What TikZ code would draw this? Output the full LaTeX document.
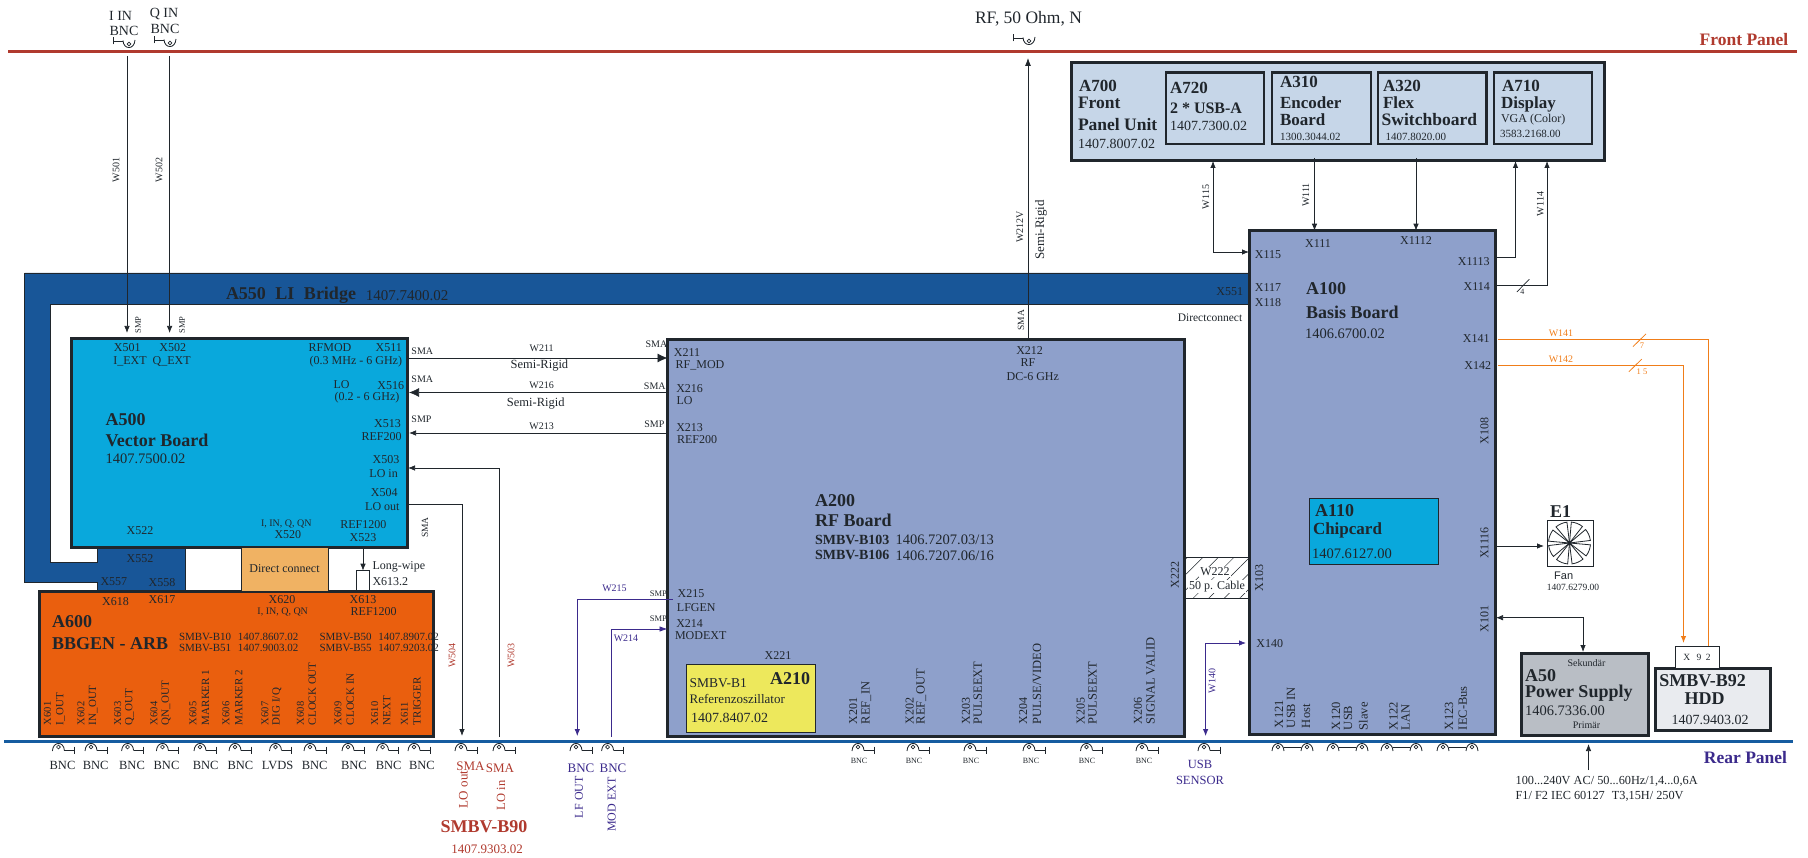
\documentclass[tikz,border=0pt]{standalone}
\usepackage{fontspec}
\setmainfont{Liberation Serif}
\newfontfamily\fansans{Liberation Sans}
\usetikzlibrary{arrows.meta,patterns.meta}
\definecolor{inkBlack}{RGB}{32, 38, 44}
\definecolor{frontRed}{RGB}{176, 58, 46}
\definecolor{rearBlue}{RGB}{22, 92, 160}
\definecolor{bridgeBlue}{RGB}{24, 86, 152}
\definecolor{vectorBlue}{RGB}{9, 168, 220}
\definecolor{rfBlue}{RGB}{142, 160, 203}
\definecolor{panelBlue}{RGB}{198, 214, 232}
\definecolor{arbOrange}{RGB}{234, 95, 14}
\definecolor{wipeOrange}{RGB}{240, 178, 99}
\definecolor{refYellow}{RGB}{237, 232, 92}
\definecolor{psuGrey}{RGB}{185, 190, 197}
\definecolor{hddGrey}{RGB}{233, 235, 239}
\definecolor{wireOrange}{RGB}{240, 125, 25}
\definecolor{wirePurple}{RGB}{59, 42, 140}
\tikzset{
  sz/.style={font=\fontsize{#1}{#1}\selectfont},
  bsz/.style={font=\fontsize{#1}{#1}\selectfont\bfseries},
  board/.style n args={3}{draw=inkBlack, line width=3pt, fill=#1, anchor=north west, minimum width=#2, minimum height=#3},
  inner/.style n args={2}{draw=inkBlack, line width=2.4pt, fill=panelBlue, anchor=north west, minimum width=#1, minimum height=#2},
  wire/.style={draw=inkBlack, line width=0.75pt},
  head/.style={-{Latex[length=7pt,width=5.5pt]}},
  bighead/.style={-{Latex[length=10pt,width=9pt]}},
  bothheads/.style={{Latex[length=7pt,width=5.5pt]}-{Latex[length=7pt,width=5.5pt]}},
  pwire/.style={draw=wirePurple, line width=0.75pt},
  owire/.style={draw=wireOrange, line width=1pt},
  up/.style={rotate=90, anchor=west},
  conn/.pic={
    \draw[inkBlack, line width=0.85pt] (-1,8) .. controls (-0.5,-2) and (10.5,-2) .. (11,7.5);
    \draw[inkBlack, line width=0.7pt] (5,4) circle (1.9pt);
    \draw[inkBlack, line width=0.85pt] (11,7) -- (21,7) (21,3.5) -- (21,11);
  },
  conndouble/.pic={
    \draw[inkBlack, line width=0.85pt] (-1,8) .. controls (-0.5,-2) and (10.5,-2) .. (11,8);
    \draw[inkBlack, line width=0.7pt] (5,4) circle (1.9pt);
    \draw[inkBlack, line width=0.85pt] (28,8) .. controls (28.5,-2) and (39.5,-2) .. (40,8);
    \draw[inkBlack, line width=0.7pt] (34,4) circle (1.9pt);
    \draw[inkBlack, line width=0.85pt] (11,4) -- (28,4);
  },
}
\begin{document}
\begin{tikzpicture}[x=1pt, y=-1pt, every node/.style={inner sep=0pt, outer sep=0pt, text=inkBlack, sz=12}]
\useasboundingbox (0,0) rectangle (1808,858);

% panels
\coordinate (frontL) at (8,52);
\coordinate (frontR) at (1797,52);
\coordinate (rearL) at (4,741);
\coordinate (rearR) at (1793,741);
\draw[frontRed, line width=3pt] (frontL) -- (frontR);
\draw[rearBlue, line width=3pt] (rearL) -- (rearR);

% bridge
\draw[fill=bridgeBlue, draw=inkBlack, line width=0.6pt] (24.5,273) -- (1249,273) -- (1249,304) -- (50,304) -- (50,562) -- (97,562) -- (97,545) -- (185,545) -- (185,592) -- (97,592) -- (97,582) -- (24.5,582) -- cycle;

% boards
\node[board={vectorBlue}{336pt}{208pt}] (A500) at (71,339) {};
\node[board={arbOrange}{393.5pt}{145pt}] (A600) at (39.5,591.7) {};
\node[draw=inkBlack, line width=0.7pt, fill=wipeOrange, anchor=north west, minimum width=87pt, minimum height=44pt] (direct) at (241,547) {};
\node[draw=inkBlack, line width=0.7pt, fill=white, anchor=north west, minimum width=13pt, minimum height=20pt] (wipe) at (356.7,570.7) {};
\node[board={rfBlue}{517pt}{396.7pt}] (A200) at (667.5,340) {};
\node[draw=inkBlack, line width=1pt, fill=refYellow, anchor=north west, minimum width=129.7pt, minimum height=68pt] (A210) at (686,664) {};
\node[draw=inkBlack, line width=0.6pt, pattern={Lines[angle=45,distance=11pt,line width=0.5pt]}, pattern color=inkBlack, anchor=north west, minimum width=64pt, minimum height=41pt] (W222) at (1185,557) {};
\node[board={rfBlue}{246pt}{503.3pt}] (A100) at (1249,230.7) {};
\node[draw=inkBlack, line width=1pt, fill=vectorBlue, anchor=north west, minimum width=129pt, minimum height=66.7pt] (A110) at (1309,498) {};
\node[draw=inkBlack, line width=1pt, fill=white, anchor=north west, minimum width=46pt, minimum height=45.3pt] (fan) at (1547,520.7) {};
\node[board={psuGrey}{127.6pt}{82.7pt}] (A50) at (1521,653) {};
\node[board={hddGrey}{115.7pt}{62.7pt}] (HDD) at (1655,668) {};
\node[draw=inkBlack, line width=0.7pt, fill=white, anchor=north west, minimum width=44pt, minimum height=22pt] (X92) at (1675,646) {};
\node[board={panelBlue}{533pt}{98pt}] (A700) at (1071,63) {};
\node[inner={98pt}{71.3pt}] (A720) at (1166,72.7) {};
\node[inner={99pt}{71.3pt}] (A310) at (1272,72.7) {};
\node[inner={108.5pt}{71.3pt}] (A320) at (1378,72.7) {};
\node[inner={98pt}{71.3pt}] (A710) at (1494,72.7) {};

% fan blades
\coordinate (fanC) at (1569.5,543);
\foreach \a in {5,50,95,140,185,230,275,320}
  \draw[inkBlack, line width=0.8pt] (fanC) -- ++(\a:21) arc (\a:\a+33:21) -- cycle;

% connectors to the front
\coordinate (w501a) at (127,56);
\coordinate (w502a) at (169.6,56);
\coordinate (rfTop) at (1028,58);
\draw[wire, head, shorten >=6pt] (w501a) -- (w501a |- A500.north);
\draw[wire, head, shorten >=6pt] (w502a) -- (w502a |- A500.north);
\draw[wire, {Latex[length=8pt,width=6pt]}-] (rfTop) -- (rfTop |- A200.north);

% A500 to A200
\coordinate (w211) at (667,358);
\coordinate (w216) at (667,392.5);
\coordinate (w213) at (667,433);
\draw[wire, bighead, shorten <=2pt] (A500.east |- w211) -- (A200.west |- w211);
\draw[wire, bighead, shorten >=2pt] (A200.west |- w216) -- (A500.east |- w216);
\draw[wire, head, shorten >=2pt] (A200.west |- w213) -- (A500.east |- w213);

% LO wires
\coordinate (w503a) at (499,468);
\coordinate (w503b) at (499,737);
\coordinate (w504a) at (462,504);
\coordinate (w504b) at (462,736);
\draw[wire, head, shorten >=1pt] (w503b) -- (w503a) -- (A500.east |- w503a);
\draw[wire, head] (A500.east |- w504a) -- (w504a) -- (w504b);
\coordinate (wipeArrow) at (363,547);
\draw[wire, head] (wipeArrow) -- (wipeArrow |- wipe.north);

% purple wires
\coordinate (w215a) at (577.3,599);
\coordinate (w215b) at (577.3,736);
\coordinate (w214a) at (611,629);
\coordinate (w214b) at (611,737);
\coordinate (w140a) at (1205.6,643);
\coordinate (w140b) at (1205.6,736);
\draw[pwire, {Latex[length=7pt,width=5.5pt]}-] (w215b) -- (w215a) -- (672.6,599);
\draw[pwire, {Latex[length=8pt,width=5.5pt]}-] (A200.west |- w214a) -- (w214a) -- (w214b);
\draw[pwire, bothheads, shorten >=3pt] (w140b) -- (w140a) -- (A100.west |- w140a);

% A100 to the front panel unit
\coordinate (w115a) at (1213,252);
\coordinate (w111a) at (1314.5,158);
\coordinate (w112a) at (1416,158);
\coordinate (w113a) at (1515.5,257);
\coordinate (w114a) at (1547,285.7);
\draw[wire, bothheads] (w115a |- A700.south) -- (w115a) -- (A100.west |- w115a);
\draw[wire, head] (w111a) -- (w111a |- A100.north);
\draw[wire, head] (w112a) -- (w112a |- A100.north);
\draw[wire, head] (A100.east |- w113a) -- (w113a) -- (w113a |- A700.south);
\draw[wire, head] (A100.east |- w114a) -- (w114a) -- (w114a |- A700.south);
\draw[inkBlack, line width=0.7pt] (1522.8,285.7) ++(-6,6.3) -- ++(12.5,-12.7);

% hdd wires
\coordinate (w141a) at (1708.8,340);
\coordinate (w142a) at (1683.5,365.7);
\draw[owire, shorten <=3pt] (A100.east |- w141a) -- (w141a) -- (w141a |- X92.north);
\draw[owire, head, shorten <=3pt, shorten >=3pt] (A100.east |- w142a) -- (w142a) -- (w142a |- X92.north);
\draw[wireOrange, line width=0.8pt] (1639.5,340.3) ++(-6.5,6.3) -- ++(13,-12.7);
\draw[wireOrange, line width=0.8pt] (1635.3,365.5) ++(-6.5,6.3) -- ++(13,-12.7);

% fan and power supply
\coordinate (fanIn) at (1495,546);
\coordinate (x101a) at (1583,617.7);
\coordinate (mains) at (1588.5,770);
\draw[wire, head, shorten >=3pt] (A100.east |- fanIn) -- (fan.west |- fanIn);
\draw[wire, bothheads, shorten <=1pt, shorten >=1pt] (A100.east |- x101a) -- (x101a) -- (x101a |- A50.north);
\draw[wire, head, shorten >=3pt] (mains) -- (mains |- rearL);

% connectors on the panels
\pic (fIn1) at (134,48) [rotate=180] {conn};
\pic (fIn2) at (175,47) [rotate=180] {conn};
\pic (fRf) at (1034,45) [rotate=180] {conn};
\foreach \n/\x in {1/53.4,2/86,3/122.6,4/157.4,5/195,6/230,7/270.5,8/305,9/343,10/377.6,11/409,12/456,13/494,14/571,15/602.6,16/853,17/908,18/965,19/1024,20/1081.5,21/1137,22/1199}
  \pic (rIn\n) at (\x,743) {conn};
\foreach \n/\x in {1/1273,2/1328,3/1382,4/1438}
  \pic (rDbl\n) at (\x,743) {conndouble};

% front labels
\node[sz=14] (tIin) at (120.6,15.7) {I IN};
\node[sz=14] (tIbnc) at (124,31) {BNC};
\node[sz=14] (tQin) at (164,14) {Q IN};
\node[sz=14] (tQbnc) at (165,29) {BNC};
\node[sz=17.5] (tRf) at (1028.5,18.5) {RF, 50 Ohm, N};
\node[bsz=17.5, text=frontRed] (tFront) at (1744,39.3) {Front Panel};
\node[bsz=17.5, text=wirePurple] (tRear) at (1745.5,758) {Rear Panel};

% wire labels, top
\node[sz=10, up, anchor=center] (tW501) at (116,170) {W501};
\node[sz=10, up, anchor=center] (tW502) at (159,170) {W502};
\node[sz=8.5, up, anchor=center] (tSmp1) at (138,325) {SMP};
\node[sz=8.5, up, anchor=center] (tSmp2) at (182,325) {SMP};
\node[sz=10, up, anchor=center] (tW212) at (1020,227) {W212V};
\node[sz=13, up, anchor=center] (tSemi0) at (1041,230) {Semi-Rigid};
\node[sz=9.5, up, anchor=center] (tSma0) at (1021,320) {SMA};
\node[sz=10, up, anchor=center] (tW115) at (1206,197) {W115};
\node[sz=10, up, anchor=center] (tW111) at (1306,195) {W111};
\node[sz=10, up, anchor=center] (tW114) at (1540.5,204) {W114};

% bridge labels
\node[bsz=18, anchor=west] (tA550) at (226,295.7) {A550\hspace{5pt} LI\hspace{5pt} Bridge};
\node[sz=15, anchor=west] (tA550n) at (365.8,295.7) {1407.7400.02};
\node (tX551) at (1229.7,291.7) {X551};
\node[sz=11.5] (tDirectc) at (1210,317.7) {Directconnect};
\node (tX552) at (140,558.3) {X552};
\node (tX557) at (113.9,581.7) {X557};
\node (tX558) at (162,582.3) {X558};

% A500
\node (tX501) at (127.3,347.7) {X501};
\node (tX502) at (172.8,347.7) {X502};
\node (tIext) at (130,361.7) {I\_EXT};
\node (tQext) at (171.6,361.7) {Q\_EXT};
\node (tRfmod) at (330,347.7) {RFMOD};
\node (tX511) at (388.7,347.7) {X511};
\node (tRange1) at (355.9,361.7) {(0.3 MHz - 6 GHz)};
\node (tLo1) at (341.6,384.7) {LO};
\node (tX516) at (390.7,385.7) {X516};
\node (tRange2) at (367,397.7) {(0.2 - 6 GHz)};
\node[bsz=18, anchor=west] (tA500) at (105.6,420) {A500};
\node[bsz=18, anchor=west] (tVector) at (105.6,440) {Vector Board};
\node[sz=14.5, anchor=west] (tA500n) at (105.6,458.3) {1407.7500.02};
\node (tX513) at (387.5,423.3) {X513};
\node (tRef200a) at (381.6,436.7) {REF200};
\node (tX503) at (386,459.3) {X503};
\node (tLoin) at (383.6,473.7) {LO in};
\node (tX504) at (384.3,492.7) {X504};
\node (tLoout) at (382.4,507) {LO out};
\node (tX522) at (140,530.7) {X522};
\node[sz=10] (tIq1) at (286.3,523.7) {I, IN, Q, QN};
\node (tX520) at (287.9,534.7) {X520};
\node (tRef1200a) at (363.4,524.3) {REF1200};
\node (tX523) at (363,537.3) {X523};
\node[sz=9.5, up, anchor=center] (tSma3) at (425,527.7) {SMA};
\node (tDirect) at (direct.center) {Direct connect};
\node[anchor=west] (tWipe) at (372.5,566.7) {Long-wipe};
\node[anchor=west] (tX6132) at (372.5,581.7) {X613.2};

% wire labels, A500 to A200
\node[sz=10] (tSma1) at (422.3,351.7) {SMA};
\node[sz=10] (tSma2) at (422.3,379.3) {SMA};
\node[sz=10] (tSmp3) at (421.5,419) {SMP};
\node[sz=10] (tW211) at (541.7,348.3) {W211};
\node[sz=12.5] (tSemi1) at (539.4,365.7) {Semi-Rigid};
\node[sz=10] (tW216) at (541.7,385.3) {W216};
\node[sz=12.5] (tSemi2) at (535.8,403.3) {Semi-Rigid};
\node[sz=10] (tW213) at (541.7,426.7) {W213};

% A600
\node (tX618) at (115.5,601.3) {X618};
\node (tX617) at (162,599.3) {X617};
\node (tX620) at (282,599.3) {X620};
\node[sz=10] (tIq2) at (282.7,611.7) {I, IN, Q, QN};
\node (tX613) at (363,599.3) {X613};
\node (tRef1200b) at (373.7,611.7) {REF1200};
\node[bsz=18, anchor=west] (tA600) at (52.2,622) {A600};
\node[bsz=18, anchor=west] (tBbgen) at (52.2,643.3) {BBGEN - ARB};
\node[sz=11, anchor=west] (tB10) at (179,636.7) {SMBV-B10\hspace{4pt} 1407.8607.02};
\node[sz=11, anchor=west] (tB51) at (179,647.7) {SMBV-B51\hspace{4pt} 1407.9003.02};
\node[sz=11, anchor=west] (tB50) at (319.5,636.7) {SMBV-B50\hspace{4pt} 1407.8907.02};
\node[sz=11, anchor=west] (tB55) at (319.5,647.7) {SMBV-B55\hspace{4pt} 1407.9203.02};
\foreach \n/\t/\xa/\xb in {601/I\_OUT/47.4/60.5,602/IN\_OUT/81/93.3,603/Q\_OUT/117.8/129.7,604/QN\_OUT/154/166,605/MARKER 1/193/205.6,606/MARKER 2/226/238.8,607/{DIG I/Q}/265/276.8,608/CLOCK OUT/300.5/312.4,609/CLOCK IN/338/350.3,610/NEXT/374.8/386.7,611/TRIGGER/404.5/417}{
  \node[sz=10.5, up] (tX\n) at (\xa,725) {X\n};
  \node[sz=11, up] (tS\n) at (\xb,725) {\t};
}

% rear labels, left
\foreach \n/\x/\t in {1/62.5/BNC,2/95.7/BNC,3/132/BNC,4/166.5/BNC,5/205.6/BNC,6/240.4/BNC,7/277.6/LVDS,8/314.7/BNC,9/353.9/BNC,10/388.7/BNC,11/421.9/BNC}
  \node[sz=12.5] (tRear\n) at (\x,765.7) {\t};
\node[sz=13, text=frontRed] (tSmaO) at (470.5,766.7) {SMA};
\node[sz=13, text=frontRed] (tSmaI) at (500,768.3) {SMA};
\node[sz=13, up, text=frontRed] (tLoO) at (463.4,808) {LO out};
\node[sz=12.5, up, text=frontRed] (tLoI) at (501,810) {LO in};
\node[bsz=18, text=frontRed] (tB90) at (484,826.7) {SMBV-B90};
\node[sz=13, text=frontRed] (tB90n) at (487,849) {1407.9303.02};
\node[sz=10, up, anchor=center, text=frontRed] (tW504) at (452,655.7) {W504};
\node[sz=10, up, anchor=center, text=frontRed] (tW503) at (511,655.7) {W503};
\node[sz=13, text=wirePurple] (tBncL) at (581,768.3) {BNC};
\node[sz=13, text=wirePurple] (tBncM) at (613,768.3) {BNC};
\node[sz=12, up, text=wirePurple] (tLfout) at (579,818) {LF OUT};
\node[sz=12, up, text=wirePurple] (tModext) at (611.7,831.7) {MOD EXT};
\node[sz=10, text=wirePurple] (tW215) at (614.5,588) {W215};
\node[sz=10, text=wirePurple] (tW214) at (626,638) {W214};
\node[sz=10, up, anchor=center, text=wirePurple] (tW140) at (1212,681) {W140};
\node[sz=12.5, text=wirePurple] (tUsb) at (1200,764) {USB};
\node[sz=12.5, text=wirePurple] (tSensor) at (1200,780) {SENSOR};

% A200
\node[sz=10] (tSma4) at (656.4,344.3) {SMA};
\node (tX211) at (687,352.3) {X211};
\node (tRfm) at (700,365.7) {RF\_MOD};
\node[sz=10] (tSma5) at (654.8,386.3) {SMA};
\node (tX216) at (689.6,388.3) {X216};
\node (tLo2) at (684.5,400.7) {LO};
\node[sz=10] (tSmp4) at (654.4,424.3) {SMP};
\node (tX213) at (689.6,427.3) {X213};
\node (tRef200b) at (697,439.3) {REF200};
\node (tX212) at (1029.6,350.3) {X212};
\node (tRf2) at (1028,362.3) {RF};
\node (tDc) at (1032.8,376.7) {DC-6 GHz};
\node[bsz=18, anchor=west] (tA200) at (815,500.3) {A200};
\node[bsz=18, anchor=west] (tRfb) at (815,520) {RF Board};
\node[bsz=14, anchor=west] (tB103) at (815,540) {SMBV-B103};
\node[sz=14.5, anchor=west] (tB103n) at (895.6,540) {1406.7207.03/13};
\node[bsz=14, anchor=west] (tB106) at (815,555.3) {SMBV-B106};
\node[sz=14.5, anchor=west] (tB106n) at (895.6,555.3) {1406.7207.06/16};
\node[up, anchor=center] (tX222) at (1175,575.3) {X222};
\node[fill=white, inner sep=1pt] (tW222) at (1215,571.7) {W222};
\node[fill=white, inner sep=1pt] (tCable) at (1217,586.7) {50 p. Cable};
\node (tX215) at (691,593.7) {X215};
\node[sz=8.5] (tSmp5) at (658.4,594) {SMP};
\node (tLf) at (696.3,607.3) {LFGEN};
\node (tX214) at (689.6,623.3) {X214};
\node[sz=8.5] (tSmp6) at (658.4,619) {SMP};
\node (tMod) at (700.7,635.7) {MODEXT};
\node (tX221) at (778,655.3) {X221};
\node[bsz=18] (tA210) at (790,678.3) {A210};
\node[sz=13.5, anchor=west] (tB1) at (689.6,683.3) {SMBV-B1};
\node[sz=13, anchor=west] (tRefosz) at (689.6,699) {Referenzoszillator};
\node[sz=14, anchor=west] (tA210n) at (691,717.7) {1407.8407.02};
\foreach \n/\t/\xa/\xb in {201/REF\_IN/853.3/866.3,202/REF\_OUT/909.8/921.3,203/PULSEEXT/966/977.8,204/{PULSE/VIDEO}/1023.3/1037,205/PULSEEXT/1080.7/1092.5,206/SIGNAL VALID/1138/1150.6}{
  \node[sz=12, up] (tX\n) at (\xa,724) {X\n};
  \node[sz=12.5, up] (tS\n) at (\xb,724) {\t};
}
\foreach \n/\x in {1/859,2/914,3/971,4/1031,5/1087,6/1144}
  \node[sz=8] (tSmallBnc\n) at (\x,761) {BNC};

% A700
\node[bsz=17, anchor=west] (tA700) at (1079,86) {A700};
\node[bsz=17.5, anchor=west] (tFr) at (1078,103.3) {Front};
\node[bsz=17.5, anchor=west] (tPu) at (1078,125) {Panel Unit};
\node[sz=14, anchor=west] (tA700n) at (1078,144) {1407.8007.02};
\node[bsz=17, anchor=west] (tA720) at (1170,88.3) {A720};
\node[bsz=16, anchor=west] (tUsba) at (1170,108.3) {2 * USB-A};
\node[sz=14, anchor=west] (tA720n) at (1170,125.7) {1407.7300.02};
\node[bsz=17, anchor=west] (tA310) at (1280,82.3) {A310};
\node[bsz=17, anchor=west] (tEnc) at (1280,102.3) {Encoder};
\node[bsz=17, anchor=west] (tBrd) at (1280,120) {Board};
\node[sz=11, anchor=west] (tA310n) at (1280,136.7) {1300.3044.02};
\node[bsz=17, anchor=west] (tA320) at (1383,86) {A320};
\node[bsz=17, anchor=west] (tFlex) at (1383,102.3) {Flex};
\node[bsz=17.5, anchor=west] (tSwitch) at (1381.7,120) {Switchboard};
\node[sz=11, anchor=west] (tA320n) at (1385.6,137) {1407.8020.00};
\node[bsz=17, anchor=west] (tA710) at (1502,86) {A710};
\node[bsz=17, anchor=west] (tDisp) at (1501,104) {Display};
\node[sz=12, anchor=west] (tVga) at (1501,119.3) {VGA (Color)};
\node[sz=11, anchor=west] (tA710n) at (1500,134.3) {3583.2168.00};

% A100
\node (tX115) at (1268,254.3) {X115};
\node (tX111) at (1318,243.3) {X111};
\node (tX1112) at (1416,240.3) {X1112};
\node (tX1113) at (1473.8,261.3) {X1113};
\node (tX114) at (1476.8,286.7) {X114};
\node (tX117) at (1268,287.3) {X117};
\node (tX118) at (1268,302.3) {X118};
\node[bsz=18, anchor=west] (tA100) at (1306,289) {A100};
\node[bsz=18, anchor=west] (tBasis) at (1306,312.3) {Basis Board};
\node[sz=14.5, anchor=west] (tA100n) at (1305,334) {1406.6700.02};
\node (tX141) at (1476.3,338.7) {X141};
\node (tX142) at (1477.7,365.7) {X142};
\node[sz=8] (tFour) at (1522.4,292) {4};
\node[sz=10, text=wireOrange] (tW141) at (1561,333.3) {W141};
\node[sz=10, text=wireOrange] (tW142) at (1561,359.3) {W142};
\node[sz=8.5, text=wireOrange] (tSeven) at (1642,346) {7};
\node[sz=8.5, text=wireOrange] (tFifteen) at (1642,372) {1 5};
\node[up, anchor=center] (tX108) at (1484.4,430.7) {X108};
\node[up, anchor=center] (tX1116) at (1484.4,543) {X1116};
\node[up, anchor=center] (tX101) at (1484.4,619.3) {X101};
\node[up, anchor=center] (tX103) at (1259.3,578.3) {X103};
\node (tX140) at (1269.7,643.7) {X140};
\node[bsz=18, anchor=west] (tA110) at (1315,511) {A110};
\node[bsz=17, anchor=west] (tChip) at (1313,530) {Chipcard};
\node[sz=14.5, anchor=west] (tA110n) at (1312,554) {1407.6127.00};
\foreach \n/\t/\x/\y in {a/X121/1279/728,b/USB IN/1291/728,c/Host/1306/728,d/X120/1336/730,e/USB/1348/730,f/Slave/1363.4/730,g/X122/1393.5/730,h/LAN/1405.5/730,i/X123/1449/730,j/IEC-Bus/1462.7/730}
  \node[sz=12.5, up] (tV\n) at (\x,\y) {\t};

% fan, power supply, hdd
\node[bsz=18] (tE1) at (1560.5,512) {E1};
\node[font=\fontsize{11}{11}\selectfont\fansans] (tFan) at (1563.7,575.7) {Fan};
\node[sz=9.5] (tFann) at (1573,587.3) {1407.6279.00};
\node[sz=10] (tSek) at (1586.5,662.7) {Sekundär};
\node[bsz=18, anchor=west] (tA50) at (1525,676) {A50};
\node[bsz=18, anchor=west] (tPower) at (1525,693.3) {Power Supply};
\node[sz=14.5, anchor=west] (tA50n) at (1525,711) {1406.7336.00};
\node[sz=10] (tPrim) at (1586.5,725.7) {Primär};
\node[sz=9.5] (tX92) at (X92.center) {X\hspace{4pt} 9\hspace{2pt} 2};
\node[bsz=18] (tB92) at (1702.6,681) {SMBV-B92};
\node[bsz=18] (tHdd) at (1704.6,699) {HDD};
\node[sz=14] (tB92n) at (1710,720) {1407.9403.02};
\node[sz=12.3, anchor=west] (tMains1) at (1515.6,781.7) {100...240V AC/ 50...60Hz/1,4...0,6A};
\node[sz=12.3, anchor=west] (tMains2) at (1515.6,796.7) {F1/ F2 IEC 60127\hspace{4pt} T3,15H/ 250V};
\end{tikzpicture}
\end{document}
